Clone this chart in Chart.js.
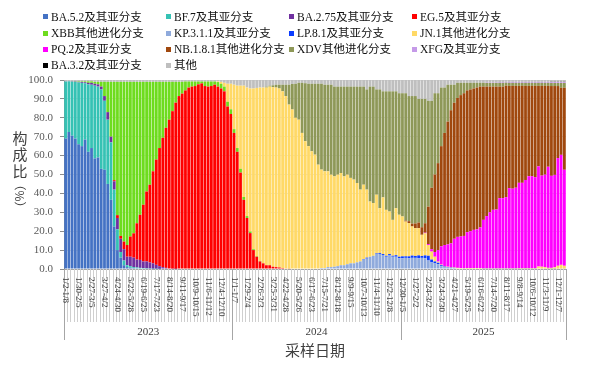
<!DOCTYPE html>
<html>
<head>
<meta charset="utf-8">
<script src="https://cdn.jsdelivr.net/npm/chart.js@4"></script>
<style>
  body { margin: 0; background: #fff; }
  #wrap { position: relative; width: 600px; height: 367px; }
  #legend { position: absolute; left: 0; top: 0; width: 600px; height: 75px;
    font: 11.5px "Liberation Serif", "Noto Sans CJK SC", serif; color: #111; }
  .item { position: absolute; white-space: nowrap; line-height: 14px; }
  .sw { display: inline-block; width: 5px; height: 5px; margin-right: 3px;
    vertical-align: middle; position: relative; top: -1px; }
</style>
</head>
<body>
<div id="wrap">
  <canvas id="chart" width="600" height="367"></canvas>
  <div id="legend"></div>
</div>
<script>
// ===== Weekly lineage composition (%), 2023-01 .. 2025-12 =====

// --- Categories (sampling weeks) ---
const weeks = [
  // 2023
  "1/2-1/8","1/9-1/15","1/16-1/22","1/23-1/29","1/30-2/5","2/6-2/12","2/13-2/19","2/20-2/26",
  "2/27-3/5","3/6-3/12","3/13-3/19","3/20-3/26","3/27-4/2","4/3-4/9","4/10-4/16","4/17-4/23",
  "4/24-4/30","5/1-5/7","5/8-5/14","5/15-5/21","5/22-5/28","5/29-6/4","6/5-6/11","6/12-6/18",
  "6/19-6/25","6/26-7/2","7/3-7/9","7/10-7/16","7/17-7/23","7/24-7/30","7/31-8/6","8/7-8/13",
  "8/14-8/20","8/21-8/27","8/28-9/3","9/4-9/10","9/11-9/17","9/18-9/24","9/25-10/1","10/2-10/8",
  "10/9-10/15","10/16-10/22","10/23-10/29","10/30-11/5","11/6-11/12","11/13-11/19","11/20-11/26","11/27-12/3",
  "12/4-12/10","12/11-12/17","12/18-12/24","12/25-12/31",
  // 2024
  "1/1-1/7","1/8-1/14","1/15-1/21","1/22-1/28","1/29-2/4","2/5-2/11","2/12-2/18","2/19-2/25",
  "2/26-3/3","3/4-3/10","3/11-3/17","3/18-3/24","3/25-3/31","4/1-4/7","4/8-4/14","4/15-4/21",
  "4/22-4/28","4/29-5/5","5/6-5/12","5/13-5/19","5/20-5/26","5/27-6/2","6/3-6/9","6/10-6/16",
  "6/17-6/23","6/24-6/30","7/1-7/7","7/8-7/14","7/15-7/21","7/22-7/28","7/29-8/4","8/5-8/11",
  "8/12-8/18","8/19-8/25","8/26-9/1","9/2-9/8","9/9-9/15","9/16-9/22","9/23-9/29","9/30-10/6",
  "10/7-10/13","10/14-10/20","10/21-10/27","10/28-11/3","11/4-11/10","11/11-11/17","11/18-11/24","11/25-12/1",
  "12/2-12/8","12/9-12/15","12/16-12/22","12/23-12/29",
  // 2025
  "12/30-1/5","1/6-1/12","1/13-1/19","1/20-1/26","1/27-2/2","2/3-2/9","2/10-2/16","2/17-2/23",
  "2/24-3/2","3/3-3/9","3/10-3/16","3/17-3/23","3/24-3/30","3/31-4/6","4/7-4/13","4/14-4/20",
  "4/21-4/27","4/28-5/4","5/5-5/11","5/12-5/18","5/19-5/25","5/26-6/1","6/2-6/8","6/9-6/15",
  "6/16-6/22","6/23-6/29","6/30-7/6","7/7-7/13","7/14-7/20","7/21-7/27","7/28-8/3","8/4-8/10",
  "8/11-8/17","8/18-8/24","8/25-8/31","9/1-9/7","9/8-9/14","9/15-9/21","9/22-9/28","9/29-10/5",
  "10/6-10/12","10/13-10/19","10/20-10/26","10/27-11/2","11/3-11/9","11/10-11/16","11/17-11/23","11/24-11/30",
  "12/1-12/7","12/8-12/14","12/15-12/21"
];
const years = ["2023", "2024", "2025"];
const yearStart = [0, 52, 104];   // first week index of each year group
const yTicks = [0, 10, 20, 30, 40, 50, 60, 70, 80, 90, 100];

// --- Series values (%); each list begins at the week index in its *Start ---
const ba52Start = 0;
const ba52 = [69, 72.5, 70.5, 69, 66, 65, 68.5, 62, 64, 58.5, 59, 53, 52.5, 45, 36.6, 22.5, 10, 6, 2, 1,
  0.7, 0.5, 0.4, 0.3, 0.3, 0.2, 0.2, 0.1, 0.1, 0.1];

const bf7Start = 0;
const bf7 = [30.2, 26.8, 28.6, 30, 32.7, 33.5, 29.8, 35.7, 33.5, 38.5, 37.5, 42, 36.5, 34, 30.4, 19.5, 11, 3, 2.5, 1,
  0.8, 0.5, 0.4, 0.3, 0.2, 0.2, 0.1, 0.1, 0.1];

const ba275Start = 0;
const ba275 = [0.1, 0.1, 0.2, 0.2, 0.3, 0.5, 0.5, 0.8, 1, 1, 1.2, 1.5, 2.5, 4, 3, 4.4, 6, 7, 6, 4.5,
  5, 5, 4.2, 4.2, 3.5, 3.6, 3.2, 2.8, 2, 1.4, 1, 0.6, 0.3, 0.2, 0.1];

const eg5Start = 15;
const eg5 = [0.6, 1.5, 1.5, 4, 6.2, 10.7, 12.9, 19.2, 23.9, 30, 37, 41.1, 48.7, 55.7, 62.5,
  68.4, 74.1, 78.7, 83.3, 87.9, 91.5, 92.8, 94.5, 96, 96.5, 96.8, 97.7, 98.2, 96.8, 96.5,
  96.8, 97.5, 96.5, 95.5, 94, 86, 82, 72, 62, 51, 36.6, 27, 19, 10, 6.5,
  4, 3, 2, 2, 1.2, 1, 0.8, 0.5, 0.3, 0.2];

const xbbStart = 0;
const xbb = [0, 0, 0.1, 0.2, 0.3, 0.3, 0.5, 0.8, 0.8, 1, 1.3, 2.5, 7.5, 16, 29, 52, 70.5, 81.5, 84.5, 86.3,
  81.8, 80.1, 74.8, 70.3, 65, 58, 54.4, 47.3, 41.1, 35, 29.6, 24.3, 20, 15.5, 11, 7.5, 6.2, 4.7, 3.2, 2.7,
  2.4, 1.5, 1, 2.4, 2.7, 2.4, 1.7, 2.4, 2.5, 2.5, 2.5, 2.5, 2, 2, 2, 1.5, 1, 0.8, 0.5, 0.3, 0.2];

const kpStart = 78;
const kp = [0.3, 0.5, 0.5, 1, 1, 1.2, 1.5, 2, 2, 2.5, 3, 3, 3.5, 4, 5, 5.5, 6.5, 7, 8, 8,
  7.4, 6.5, 7.4, 6.5, 6.5, 5.7, 5.7, 5.9, 5.7, 5.9, 5.9, 5.7, 5.9, 5.7,
  4.5, 3.5, 3, 2.5, 1.5, 1, 0.8, 0.5, 0.5, 0.3, 0.3, 0.2, 0.2, 0.2, 0.2, 0.2, 0.2,
  0.1, 0.1, 0.1, 0.1, 0.1, 0.1, 0.1, 0.1, 0.1, 0.1, 0.1, 0.1, 0.1, 0.1, 0.1, 0.1, 0.1,
  0.3, 0.2, 0.2, 0.1, 0.1, 0.1, 0.2, 0.2, 0.2];

const lpStart = 92;
const lp = [0.3, 0.5, 0, 0, 0.3, 0.5, 0.5, 0.5, 0.5, 0.5, 0.8, 0.8, 1, 0.8, 1, 1.2, 1, 1.5, 1, 1.5,
  2.5, 1.5, 1, 0.8, 0.5, 0.3, 0.2, 0.2, 0.1];

const jn1Start = 47;
const jn1 = [0.3, 1, 2, 9.5, 13.5, 23.5, 33, 44, 58.9, 68, 75.7, 85, 89, 91.8, 93,
  94, 94.5, 95, 95, 94.7, 93.5, 91.2, 86.8, 84.4, 80, 79, 72, 67.6, 65, 62.3, 60.5,
  54.9, 52.1, 51.2, 50.7, 48.9, 47.8, 48.4, 48.8, 47, 47.4, 45.2, 44.3, 42, 38, 39.3, 36, 29.2, 27.9, 31, 23.7,
  30, 24.3, 22.5, 19, 24.9, 22.2, 21.1, 18.4, 17.6, 15.4, 14.7, 14.4, 11.2, 11.7,
  5.7, 4.2, 2.5, 0.6, 0.3, 0.2, 0.2, 0.2, 0.2, 0.3, 0.2, 0.2, 0.3, 0.3, 0.3, 0.3, 0.3,
  0.2, 0.2, 0.2, 0.2, 0.2, 0.2, 0.2, 0.2, 0.2, 0.2, 0.2, 0.3, 0.3, 0.3, 0.3, 0.3, 0.3,
  1, 1, 0.8, 0.5, 0.5, 0.8, 1.5, 2, 1.5];

const pq2Start = 111;
const pq2 = [0.3, 0.5, 1.3, 2.5, 6.1, 9.7, 11.2, 11.8, 12.7, 15.2, 16.4, 16.7, 17.1, 19, 19.5, 20.2, 20.5, 21.5,
  25.7, 27.7, 29.7, 31, 31.2, 37.2, 37.2, 37.7, 42.5, 42.2, 42.7, 45.2, 45.2, 46.7, 48.7, 48.7, 48.2,
  53, 48.2, 48.9, 53.5, 48.7, 48.9, 57, 58.2, 50.8];

const nb181Start = 105;
const nb181 = [0.5, 1, 1.5, 2.5, 3, 4, 5, 19.8, 32.5, 41, 46, 53, 59.3, 65, 70.4, 72,
  73.5, 74.8, 75.5, 75, 75, 74.8, 75, 74.5, 70.5, 68.5, 66.5, 65.2, 65, 59, 59, 59,
  54.1, 54.4, 53.9, 51.3, 51.3, 49.8, 47.8, 47.8, 48.3, 42.6, 47.5, 47, 42.8, 47.5, 47, 38.1, 35.5, 43.4];

const xdvStart = 62;
const xdv = [0.5, 0.5, 1, 1.5, 2, 3.5, 6, 10.5, 13.5, 18, 19.5, 26.5, 30.7, 33, 35.7, 37.5,
  42.8, 45.4, 45.8, 45.8, 47.6, 47.5, 46.6, 45.7, 47.5, 46.6, 48.3, 49.2, 51, 54.5, 51.9, 53, 60.8, 61.6, 55.7, 62.8,
  56.1, 62.7, 63.6, 68, 61.8, 64.3, 65.2, 67.4, 66.2, 67.5, 67.4, 65.4, 67.9, 65.8,
  56, 46, 43, 37, 31, 24, 19.5, 13.5, 9.5, 8, 6.5, 5.5, 4, 3.5, 3, 2.5, 2, 2, 2, 2, 2, 2, 2, 2, 1.6,
  1.6, 1.6, 1.6, 1.6, 1.6, 1.6, 1.6, 1.6, 1.6, 1.6, 1.6, 1.6, 1.6, 1.6, 1.6, 1.6, 2.5, 2.5];

const xfgStart = 130;
const xfg = [0.3, 0.3, 0.3, 0.3, 0.4, 0.4, 0.4, 0.5, 0.5, 0.5, 0.5, 0.5, 0.5, 0.5, 0.5, 0.5,
  0.5, 0.5, 0.5, 0.5, 0.5, 0.5, 0.5, 0.5, 0.5];

const ba32Start = 150;
const ba32 = [0.1, 0.1, 0.1, 0.1, 0.1];

const otherStart = 0;
const other = [0.7, 0.6, 0.6, 0.6, 0.7, 0.7, 0.7, 0.7, 0.7,
  1, 1, 1, 1, 1, 1, 1, 1, 1, 1, 1, 1, 1, 1, 1, 1, 1, 1, 1, 1, 1, 1, 1, 1, 1, 1, 1, 1,
  0.8, 0.8, 0.8, 0.8, 0.8, 0.8, 0.8, 0.8, 0.8, 0.8, 0.8,
  1, 1.5, 2, 2, 2.5, 3, 3, 3, 4, 4.5, 4.5, 4.2, 4, 4,
  3.5, 3, 2.8, 2.5, 2.5, 2.5, 2.5, 2.5, 2.1, 2, 1.5, 1.5, 1.7, 2, 2, 2, 2, 2, 2.5, 2.5, 2.5,
  3.5, 3.5, 3.5, 3.5, 3.5, 3.5, 3.5, 3.5, 3.5, 3.5, 5, 3.5, 3.5, 5, 5,
  6, 6, 6, 6, 6, 7, 7, 7, 8.5, 8.5, 8.5, 10, 10, 10, 11, 11, 7, 7, 4, 4, 2.5, 2.5, 2.5,
  1.5, 1.5, 1.5, 1.5, 1.5, 1.5, 1.5, 1.5, 1.5, 1.2, 1.2, 1.2, 1.2, 1.1, 1.1,
  1, 1, 1, 1, 1, 1, 1, 1, 1, 1, 1, 1, 1, 1, 1, 1, 1, 1, 1];

// --- Series table (bottom of stack first, same as legend order) ---
const series = [
  { name: "BA.5.2及其亚分支",     color: "#4472C4", start: ba52Start,  values: ba52 },
  { name: "BF.7及其亚分支",       color: "#35C2B4", start: bf7Start,   values: bf7 },
  { name: "BA.2.75及其亚分支",    color: "#7030A0", start: ba275Start, values: ba275 },
  { name: "EG.5及其亚分支",       color: "#FF0000", start: eg5Start,   values: eg5 },
  { name: "XBB其他进化分支",      color: "#6EDC1E", start: xbbStart,   values: xbb },
  { name: "KP.3.1.1及其亚分支",   color: "#8FAADC", start: kpStart,    values: kp },
  { name: "LP.8.1及其亚分支",     color: "#0A3CFF", start: lpStart,    values: lp },
  { name: "JN.1其他进化分支",     color: "#FFD966", start: jn1Start,   values: jn1 },
  { name: "PQ.2及其亚分支",       color: "#FF00FF", start: pq2Start,   values: pq2 },
  { name: "NB.1.8.1其他进化分支", color: "#A0480E", start: nb181Start, values: nb181 },
  { name: "XDV其他进化分支",      color: "#8E9858", start: xdvStart,   values: xdv },
  { name: "XFG及其亚分支",        color: "#C59AE8", start: xfgStart,   values: xfg },
  { name: "BA.3.2及其亚分支",     color: "#000000", start: ba32Start,  values: ba32 },
  { name: "其他",                 color: "#BFBFBF", start: otherStart, values: other }
];

// --- Helpers ---
const N = weeks.length;
const alignToWeeks = (start, values) => {
  const out = new Array(N).fill(null);
  values.forEach((v, k) => { out[start + k] = v; });
  return out;
};

// --- Legend (4 columns) ---
const legendCols = [43, 166, 289, 412];
const legendRows = [16.5, 33, 49, 65];
const legendEl = document.getElementById("legend");
series.forEach((s, i) => {
  const item = document.createElement("div");
  item.className = "item";
  item.style.left = legendCols[i % 4] + "px";
  item.style.top = (legendRows[Math.floor(i / 4)] - 7) + "px";
  item.innerHTML = `<span class="sw" style="background:${s.color}"></span>${s.name}`;
  legendEl.appendChild(item);
});

// --- Axis decoration: rotated week labels, year groups, titles ---
const TEXT = "#404040";
const axisDecor = {
  id: "axisDecor",
  afterDraw(chart) {
    const { ctx, chartArea: a, scales: { x } } = chart;
    const edge = i => i <= 0 ? a.left : i >= N ? a.right
      : (x.getPixelForValue(i - 1) + x.getPixelForValue(i)) / 2;
    ctx.save();

    // week separators under the axis
    ctx.strokeStyle = "#cfcfcf";
    ctx.lineWidth = 1;
    ctx.beginPath();
    for (let i = 0; i <= N; i++) {
      const px = Math.round(edge(i)) + 0.5;
      ctx.moveTo(px, a.bottom);
      ctx.lineTo(px, a.bottom + 53);
    }
    ctx.stroke();

    // year dividers
    ctx.strokeStyle = "#a6a6a6";
    ctx.beginPath();
    [...yearStart, N].forEach(i => {
      const px = Math.round(edge(i)) + 0.5;
      ctx.moveTo(px, a.bottom);
      ctx.lineTo(px, a.bottom + 71);
    });
    ctx.stroke();

    // week labels, every 4th, rotated clockwise
    ctx.fillStyle = TEXT;
    ctx.font = '9px "Liberation Serif", serif';
    ctx.textAlign = "left";
    ctx.textBaseline = "middle";
    weeks.forEach((w, i) => {
      if (i % 4) return;
      ctx.save();
      ctx.translate(x.getPixelForValue(i), a.bottom + 8);
      ctx.rotate(Math.PI / 2);
      ctx.fillText(w, 0, 0);
      ctx.restore();
    });

    // year labels
    ctx.font = '11px "Liberation Serif", serif';
    ctx.textAlign = "center";
    years.forEach((y, k) => {
      const from = edge(yearStart[k]);
      const to = edge(k + 1 < years.length ? yearStart[k + 1] : N);
      ctx.fillText(y, (from + to) / 2, a.bottom + 63);
    });

    // x title
    ctx.font = '15px "Noto Sans CJK SC", sans-serif';
    ctx.fillText("采样日期", (a.left + a.right) / 2, a.bottom + 81);

    // y title, stacked characters
    ["构", "成", "比"].forEach((ch, k) => ctx.fillText(ch, 20, 138 + k * 16.5));
    ctx.save();
    ctx.translate(20, 196);
    ctx.rotate(Math.PI / 2);
    ctx.font = '12px "Noto Sans CJK SC", sans-serif';
    ctx.fillText("（%）", 0, 0);
    ctx.restore();

    ctx.restore();
  }
};

// --- Chart ---
Chart.defaults.font.family = '"Liberation Serif", "Noto Sans CJK SC", serif';

new Chart(document.getElementById("chart"), {
  type: "bar",
  data: {
    labels: weeks,
    datasets: series.map(s => ({
      label: s.name,
      data: alignToWeeks(s.start, s.values),
      backgroundColor: s.color,
      borderWidth: 0,
      categoryPercentage: 0.86,
      barPercentage: 1
    }))
  },
  options: {
    responsive: false,
    animation: false,
    layout: { padding: { top: 80, right: 34, left: 0, bottom: 0 } },
    plugins: { legend: { display: false }, tooltip: { enabled: false } },
    scales: {
      x: {
        stacked: true,
        ticks: { display: false },
        grid: { display: false },
        border: { color: "#a6a6a6" },
        afterFit: s => { s.height = 98; }
      },
      y: {
        stacked: true,
        min: 0,
        max: 100,
        afterBuildTicks: s => { s.ticks = yTicks.map(v => ({ value: v })); },
        ticks: {
          color: "#595959",
          font: { size: 11 },
          padding: 7,
          callback: v => Number(v).toFixed(1)
        },
        grid: { color: "#e3e3e3", tickColor: "#8c8c8c", tickLength: 4 },
        border: { color: "#8c8c8c" },
        afterFit: s => { s.width = 64; }
      }
    }
  },
  plugins: [axisDecor]
});
</script>
</body>
</html>
